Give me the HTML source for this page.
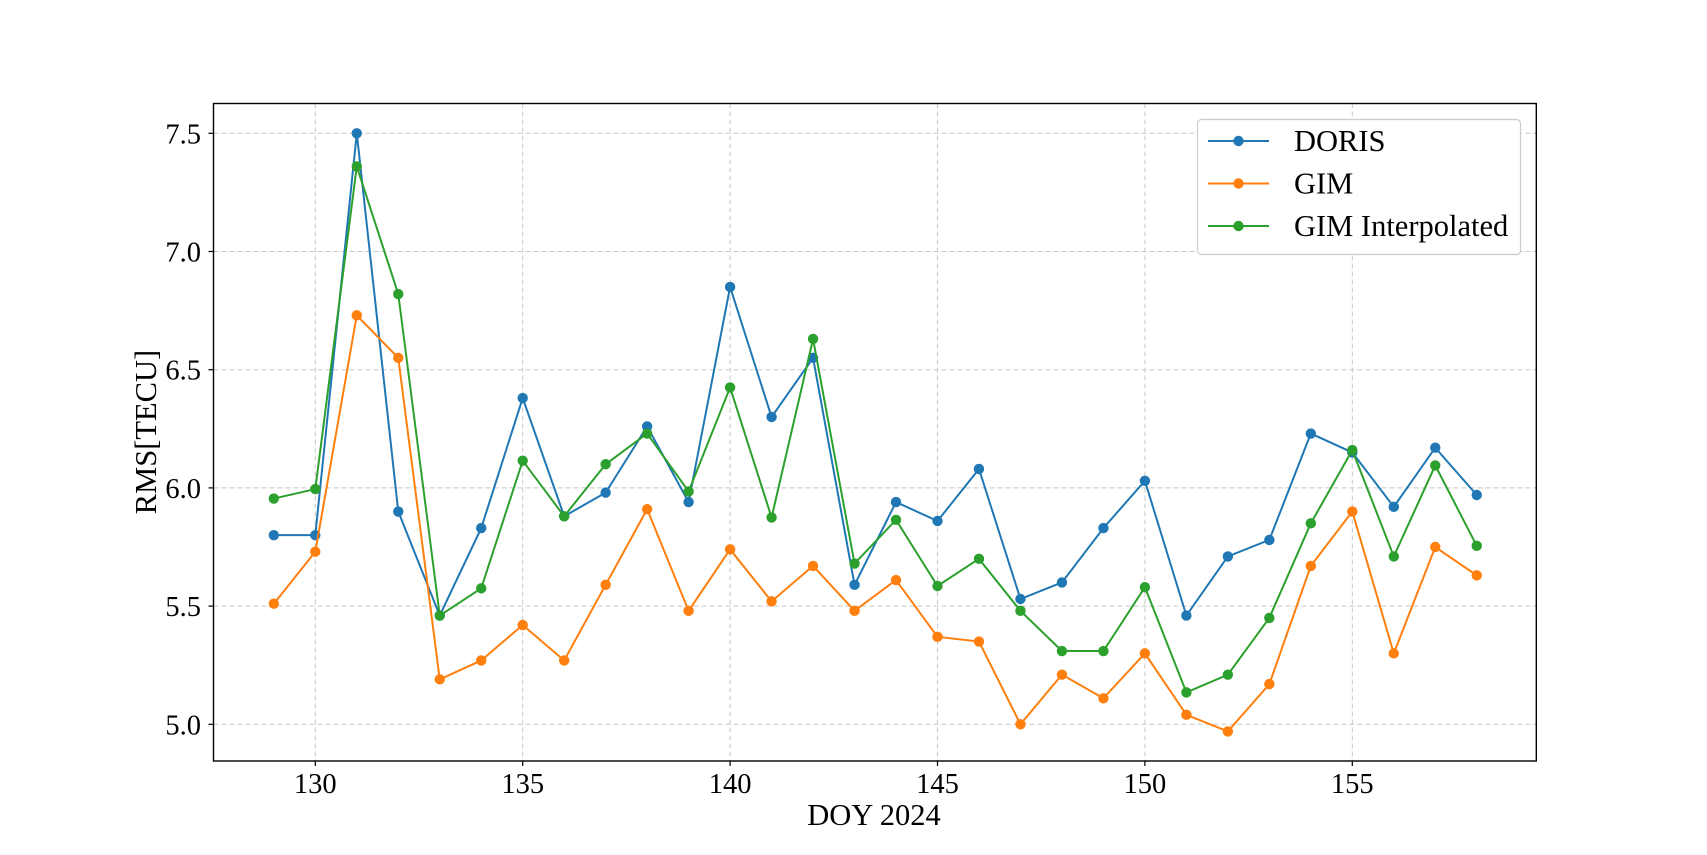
<!DOCTYPE html>
<html><head><meta charset="utf-8"><style>
body{margin:0;background:#fff}
svg{display:block;font-family:"Liberation Serif",serif}
</style></head><body>
<svg id="chart" width="1707" height="855" xmlns="http://www.w3.org/2000/svg">
<g id="grid"></g>
<g id="axes"></g>
<g id="series"></g>
<rect x="213.5" y="103.5" width="1322.8" height="657.5" fill="none" stroke="#000" stroke-width="1.4"/>
<text x="874" y="825" font-size="30.5" text-anchor="middle">DOY 2024</text>
<text transform="translate(156,432) rotate(-90)" font-size="30.5" text-anchor="middle">RMS[TECU]</text>
<g>
<rect x="1197.5" y="119.5" width="323" height="135" rx="4" fill="#fff" stroke="#ccc" stroke-width="1.2"/>
<g id="legend-items"></g>
</g>
</svg>
<script>
const days=[129,130,131,132,133,134,135,136,137,138,139,140,141,142,143,144,145,146,147,148,149,150,151,152,153,154,155,156,157,158];
const doris=[5.80,5.80,7.50,5.90,5.46,5.83,6.38,5.88,5.98,6.26,5.94,6.85,6.30,6.55,5.59,5.94,5.86,6.08,5.53,5.60,5.83,6.03,5.46,5.71,5.78,6.23,6.15,5.92,6.17,5.97];
const gim=[5.51,5.73,6.73,6.55,5.19,5.27,5.42,5.27,5.59,5.91,5.48,5.74,5.52,5.67,5.48,5.61,5.37,5.35,5.00,5.21,5.11,5.30,5.04,4.97,5.17,5.67,5.90,5.30,5.75,5.63];
const gimInterp=[5.955,5.995,7.36,6.82,5.46,5.575,6.115,5.88,6.10,6.23,5.985,6.425,5.875,6.63,5.68,5.865,5.585,5.70,5.48,5.31,5.31,5.58,5.135,5.21,5.45,5.85,6.16,5.71,6.095,5.755];
const xTicks=[130,135,140,145,150,155];
const yTicks=[5.0,5.5,6.0,6.5,7.0,7.5];
const seriesNames=["DORIS","GIM","GIM Interpolated"];
const NS="http://www.w3.org/2000/svg";
const X=v=>315.3+(v-130)*41.48;
const Y=v=>724.3-(v-5)*236.4;
function mk(tag,attrs,parent){const e=document.createElementNS(NS,tag);for(const k in attrs)e.setAttribute(k,attrs[k]);parent.appendChild(e);return e;}
const grid=document.getElementById('grid'),axes=document.getElementById('axes'),ser=document.getElementById('series'),leg=document.getElementById('legend-items');
xTicks.forEach(t=>{
 const l=mk('line',{x1:X(t),x2:X(t),y1:103.5,y2:761,stroke:'#c8c8c8','stroke-dasharray':'5,3','stroke-width':1},grid);
 
 
 const tk=mk('line',{x1:X(t),x2:X(t),y1:761,y2:766,stroke:'#000','stroke-width':1.2},axes);
 
 
 const tx=mk('text',{x:X(t),y:793,'font-size':28.5,'text-anchor':'middle'},axes);
 tx.textContent=t;
 
 
});
yTicks.forEach(t=>{
 const l=mk('line',{x1:213.5,x2:1536.3,y1:Y(t),y2:Y(t),stroke:'#c8c8c8','stroke-dasharray':'5,3','stroke-width':1},grid);
 
 
 const tk=mk('line',{x1:208.5,x2:213.5,y1:Y(t),y2:Y(t),stroke:'#000','stroke-width':1.2},axes);
 
 
 const tx=mk('text',{x:201,y:Y(t)+10,'font-size':28.5,'text-anchor':'end'},axes);
 tx.textContent=t.toFixed(1);
 
 
});
const colors=['#1f77b4','#ff7f0e','#2ca02c'];
[doris,gim,gimInterp].forEach((vals,i)=>{
 const g=mk('g',{},ser);
 
 
 const p=mk('polyline',{points:vals.map((v,j)=>X(days[j])+','+Y(v)).join(' '),fill:'none',stroke:colors[i],'stroke-width':2},g);
 
 
 vals.forEach((v,j)=>{
  const c=mk('circle',{cx:X(days[j]),cy:Y(v),r:5.2,fill:colors[i]},g);
  
  
 });
 const ly=141+i*42.5;
 const lg=mk('g',{},leg);
 
 
 mk('line',{x1:1208,x2:1269,y1:ly,y2:ly,stroke:colors[i],'stroke-width':2},lg);
 mk('circle',{cx:1238.5,cy:ly,r:5.2,fill:colors[i]},lg);
 const t=mk('text',{x:1294,y:ly+10,'font-size':30.5},lg);
 t.textContent=seriesNames[i];
});
</script>
</body></html>
